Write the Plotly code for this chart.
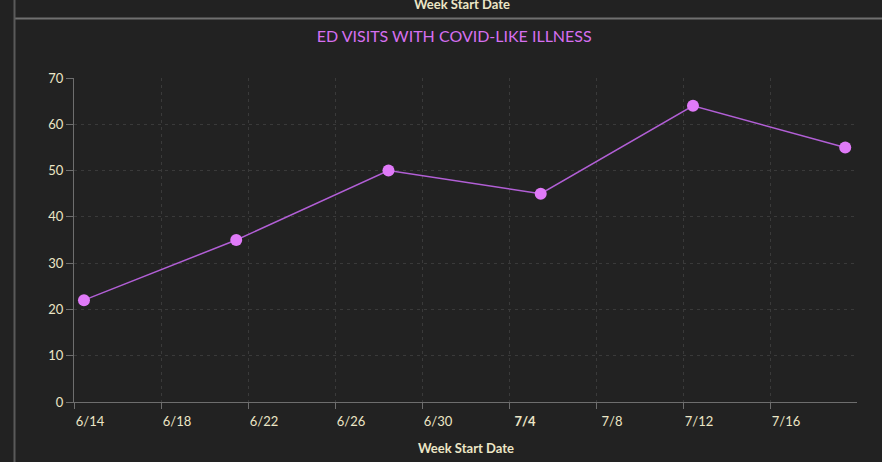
import plotly.graph_objects as go

week_start = ["2020-06-14 11:00", "2020-06-21 11:00", "2020-06-28 11:00",
              "2020-07-05 11:00", "2020-07-12 11:00", "2020-07-19 11:00"]
visits = [22, 35, 50, 45, 64, 55]

tick_dates = ["2020-06-14", "2020-06-18", "2020-06-22", "2020-06-26", "2020-06-30",
              "2020-07-04", "2020-07-08", "2020-07-12", "2020-07-16"]
tick_labels = ["6/14", "6/18", "6/22", "6/26", "6/30", "<b>7/4</b>", "7/8", "7/12", "7/16"]
y_ticks = [0, 10, 20, 30, 40, 50, 60, 70]

title_text = "ED VISITS WITH COVID-LIKE ILLNESS"
x_title = "Week Start Date"

bg = "#222222"
label_col = "#ece6c6"
grid_col = "#3a3a3a"
axis_col = "#6e6e6e"

fig = go.Figure()
fig.add_trace(go.Scatter(
    x=week_start, y=visits, mode="lines+markers",
    line=dict(color="#b25fd6", width=1.5),
    marker=dict(color="#e07af8", size=12),
    hoverinfo="x+y", showlegend=False,
))

fig.update_layout(
    width=882, height=462,
    paper_bgcolor=bg, plot_bgcolor=bg,
    margin=dict(l=74, r=25, t=78, b=60),
    font=dict(family="Lato, 'Open Sans', sans-serif", color=label_col, size=13),
    title=dict(text=title_text, x=0.515, xanchor="center", y=0.922, yanchor="middle",
               font=dict(family="Lato, sans-serif", size=16, color="#d66ff0")),
    xaxis=dict(
        type="date", range=["2020-06-14", "2020-07-20"],
        tickvals=tick_dates, ticktext=tick_labels,
        showgrid=True, gridcolor=grid_col, griddash="3px,4px", gridwidth=1,
        showline=True, linecolor=axis_col, linewidth=1,
        ticks="outside", ticklen=6, tickcolor=axis_col,
        ticklabelshift=16, ticklabelstandoff=1,
        tickfont=dict(size=13, color=label_col),
        zeroline=False, automargin=False,
    ),
    yaxis=dict(
        range=[0, 70], tickvals=y_ticks,
        showgrid=True, gridcolor=grid_col, griddash="3px,4px", gridwidth=1,
        showline=True, linecolor=axis_col, linewidth=1,
        ticks="outside", ticklen=7, tickcolor=axis_col,
        tickfont=dict(size=13, color=label_col),
        zeroline=False, automargin=False,
    ),
)

# panel frame lines (dashboard borders)
fig.add_shape(type="line", xref="paper", yref="paper",
              x0=-(74 - 14.5) / 783, x1=1.2, y0=1 + (78 - 18.5) / 324, y1=1 + (78 - 18.5) / 324,
              line=dict(color="#707070", width=2))
fig.add_shape(type="line", xref="paper", yref="paper",
              x0=-(74 - 14.5) / 783, x1=-(74 - 14.5) / 783, y0=-1, y1=2,
              line=dict(color="#5a5a5a", width=2))
fig.add_annotation(text="<b>" + x_title + "</b>", xref="paper", yref="paper",
                   x=(462 - 74) / 783, y=1 + (78 - 4) / 324, xanchor="center", yanchor="middle",
                   showarrow=False, font=dict(size=13, color=label_col))
fig.add_annotation(text="<b>" + x_title + "</b>", xref="paper", yref="paper",
                   x=(466 - 74) / 783, y=-(448 - 402) / 324, xanchor="center", yanchor="middle",
                   showarrow=False, font=dict(size=13, color=label_col))

fig.write_html("out.html", config={"displayModeBar": False},
               post_script="document.body.style.margin='0';document.body.style.overflow='hidden';")
